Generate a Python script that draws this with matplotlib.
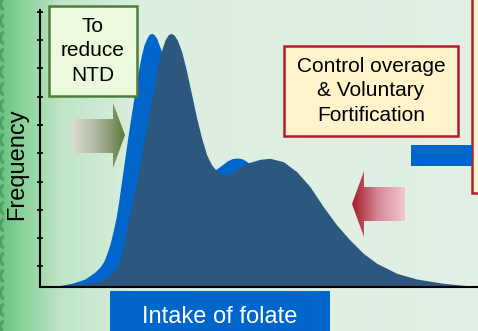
import numpy as np
import matplotlib.pyplot as plt
from matplotlib.patches import Rectangle, Polygon, Arc
from matplotlib.colors import LinearSegmentedColormap

plt.rcParams['font.family'] = ['Liberation Sans', 'DejaVu Sans']

## folate intake distributions (frequency vs intake, arbitrary units)
intake_base = [0, 25, 50, 60, 67, 72, 77, 80, 83, 87, 91.5, 96, 100.7, 105, 109.3,
               113.3, 116.7, 120, 125, 128, 131, 134, 137.3, 141.7, 146.7, 151.7,
               156.7, 161.7, 166.7, 171.7, 176.7, 182, 186, 190, 206.7, 220, 230,
               243.3, 256.7, 270, 283.3, 296.7, 310, 323.3, 336.7, 356.7, 376.7,
               403.3, 438]
freq_base = [0, 1.8, 4.3, 6.3, 10.3, 14.3, 20.3, 27.3, 40.3, 60.3, 82.3, 102.3, 129,
             152.3, 175.6, 195.6, 215.6, 232.3, 247.3, 252.3, 254, 252.3, 247.3,
             235.6, 215.6, 192.3, 169, 149, 132.3, 122.3, 116.3, 112.8, 112.3, 113.3,
             124, 128, 129, 125.6, 115.6, 100.6, 80.6, 62.3, 47.3, 34, 24, 14, 8.3,
             4, 0.6]

intake_fort = [0, 20, 33, 45, 55, 60, 64, 67, 70, 73, 76, 78.5, 80.7, 83, 85, 88.3,
               91.7, 95, 98.3, 101.7, 104, 106.7, 109, 111.7, 114, 116.7, 121, 126,
               132, 140, 150, 160, 168, 173, 177, 182, 187, 192, 197, 202, 206, 210,
               215, 225, 240, 260, 280, 300, 330, 380, 438]
freq_fort = [0, 1.8, 4.3, 8.3, 15.3, 20.3, 26.3, 34.3, 43.3, 55.3, 69.3, 84.3, 100.3,
             116.3, 130.3, 153.3, 175.3, 196.3, 216.3, 233.3, 242.3, 248.8, 252.8,
             254, 252.8, 249, 237.3, 217.3, 187.3, 157.3, 135.3, 124.3, 118.3, 116.3,
             118.8, 122.3, 126.3, 128.6, 129.3, 128.6, 126.3, 123.3, 118.8, 110.3,
             97.3, 72.3, 47.3, 29.3, 12.3, 2.3, 0]

W, H = 478, 331
fig = plt.figure(figsize=(W / 100, H / 100), dpi=100)

# green backdrop fading to pale mint
bg = fig.add_axes([0, 0, 1, 1], zorder=0)
xs = np.arange(W)
stops = [0, 25, 60, 140, W]
rgb = np.array([[0x6a, 0xc2, 0x7e], [0x8e, 0xd3, 0x9e], [0xbe, 0xe4, 0xc6],
                [0xdc, 0xee, 0xdf], [0xe3, 0xf0, 0xe5]]) / 255
row = np.stack([np.interp(xs, stops, rgb[:, c]) for c in range(3)], axis=-1)
img = np.repeat(row[None, :, :], H, axis=0)
bg.imshow(img, extent=(0, W, H, 0), aspect='auto', interpolation='bilinear')
for yy in np.arange(4, H, 17):
    bg.add_patch(Arc((5, yy), 9, 12, theta1=100, theta2=260, color='#3e8c52',
                     lw=2.4, alpha=0.6))
bg.set_xlim(0, W)
bg.set_ylim(H, 0)
bg.axis('off')

# main chart
ax = fig.add_axes([40 / W, (H - 287.3) / H, (W - 40) / W, 277.3 / H], zorder=1)
ax.patch.set_alpha(0)
ax.fill_between(intake_fort, freq_fort, color='#0066cc', lw=0)
ax.fill_between(intake_base, freq_base, color='#2c577e', lw=0)
ax.set_xlim(0, 438)
ax.set_ylim(0, 277.3)
ax.set_xticks([])
ax.set_yticks(np.arange(275.6, 0, -28.3))
ax.set_yticklabels([])
ax.tick_params(axis='y', direction='inout', length=4, width=1.2, color='black')
ax.spines['top'].set_visible(False)
ax.spines['right'].set_visible(False)
ax.spines['left'].set_linewidth(1.5)
ax.spines['bottom'].set_linewidth(1.5)

# annotations drawn in pixel coordinates
ov = fig.add_axes([0, 0, 1, 1], zorder=2)
ov.patch.set_alpha(0)
ov.axis('off')


def grad_arrow(pts, x0, x1, y0, y1, colors):
    poly = Polygon(pts, closed=True, fc='none', ec='none')
    ov.add_patch(poly)
    cmap = LinearSegmentedColormap.from_list('g', colors)
    grad = np.tile(np.linspace(0, 1, 256), (2, 1))
    im = ov.imshow(grad, cmap=cmap, extent=(x0, x1, y1, y0), aspect='auto',
                   interpolation='bilinear')
    im.set_clip_path(poly)


grad_arrow([(72, 119), (113, 119), (113, 103), (125, 135), (113, 168),
            (113, 153), (72, 153)], 72, 125, 103, 168,
           ['#dcdcd2', '#aab49a', '#5c7a3c'])
grad_arrow([(405, 187), (364, 187), (364, 171), (352, 204), (364, 237),
            (364, 221), (405, 221)], 352, 405, 171, 237,
           ['#a41a2c', '#d88a98', '#f0c8d0'])
ov.set_xlim(0, W)
ov.set_ylim(H, 0)

ov.add_patch(Rectangle((49, 6), 88, 90, fc='#ebf9dd', ec='#4d7d3d', lw=1.8))
ov.text(93, 51, 'To\nreduce\nNTD', ha='center', va='center', fontsize=15,
        linespacing=1.38)

ov.add_patch(Rectangle((284, 46), 174, 90, fc='#fff3cc', ec='#b01f30', lw=1.8))
ov.text(371, 91, 'Control overage\n& Voluntary\nFortification', ha='center',
        va='center', fontsize=15, linespacing=1.38)

ov.add_patch(Rectangle((472, -5), 20, 198, fc='#fff3cc', ec='#b01f30', lw=1.8))
ov.add_patch(Rectangle((411, 145), 61, 21, fc='#0066cc', ec='none'))

ov.add_patch(Rectangle((110, 291), 220, 45, fc='#0066cc', ec='none'))
ov.text(220, 317, 'Intake of folate', ha='center', va='center', fontsize=17,
        color='white')
ov.text(17, 164, 'Frequency', ha='center', va='center', fontsize=17,
        rotation=90)

fig.savefig('out.png', dpi=100)
